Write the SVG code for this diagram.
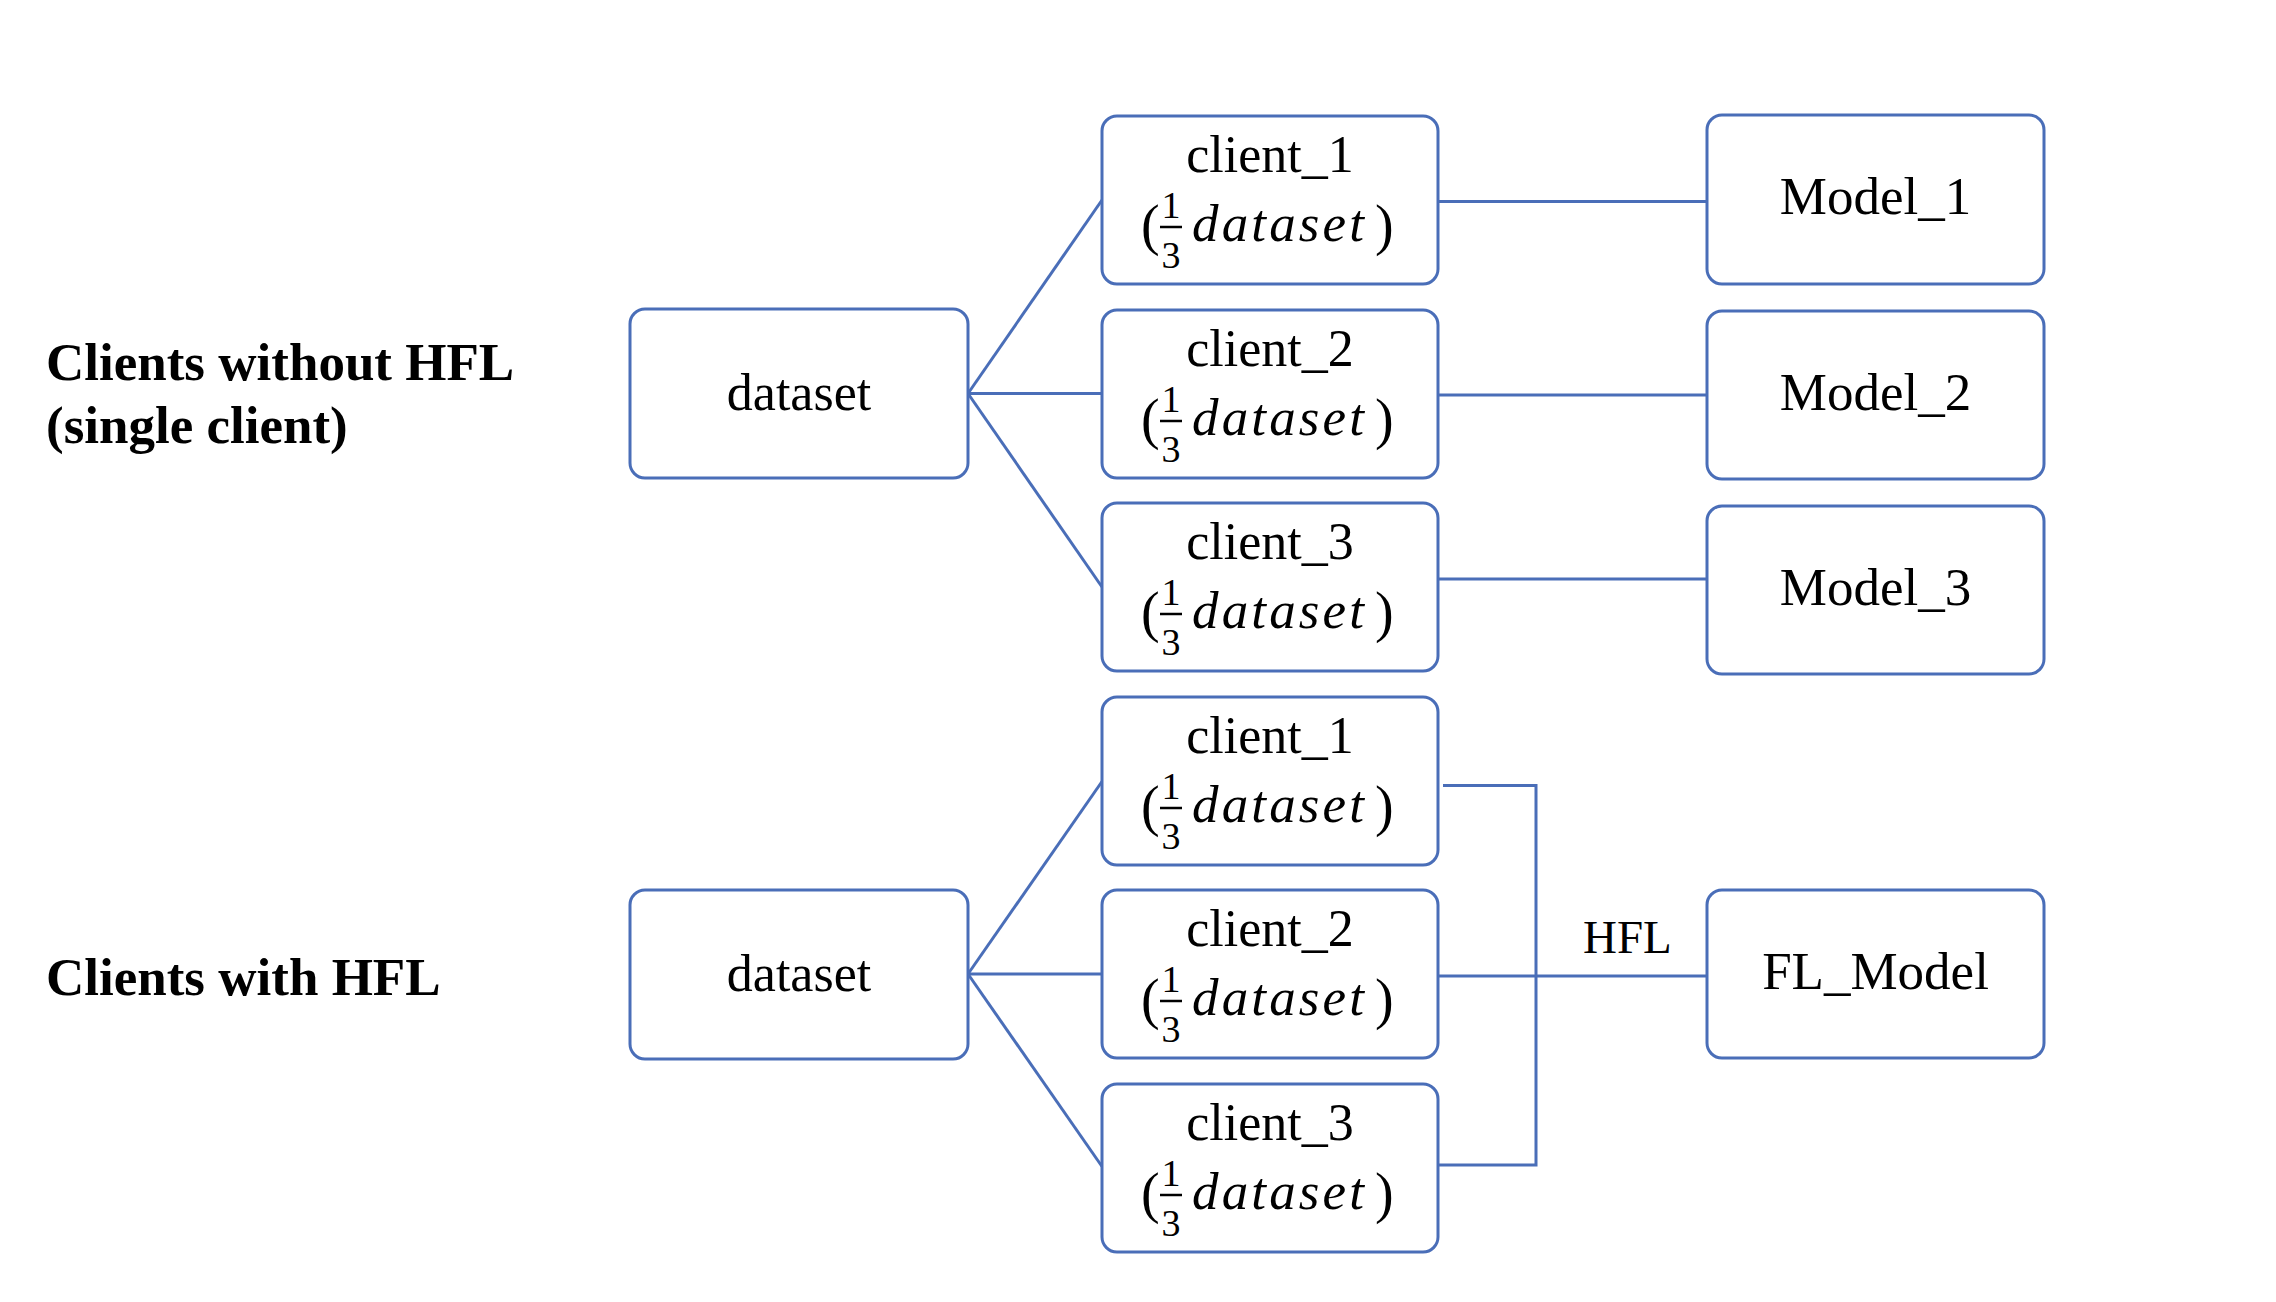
<svg xmlns="http://www.w3.org/2000/svg" width="2276" height="1302" viewBox="0 0 2276 1302">
<defs>
<style>
.box{fill:#ffffff;stroke:#4A6EB8;stroke-width:3}
.ln{stroke:#4A6EB8;stroke-width:3;fill:none}
.bar{stroke:#000000;stroke-width:2.5}
.t{font-family:"Liberation Serif","Times New Roman",serif;fill:#000000}
.lbl{font-size:53px;font-weight:bold}
.nm{font-size:52px;text-anchor:middle}
.mdl{font-size:53px;text-anchor:middle}
.par{font-size:56px}
.dig{font-size:38px;text-anchor:middle}
.it{font-size:53px;font-style:italic}
.hfl{font-size:47px}
</style>
</defs>
<rect width="2276" height="1302" fill="#ffffff"/>

<g id="labels">
<text class="t lbl" x="46" y="380">Clients without HFL</text>
<text class="t lbl" x="46" y="443">(single client)</text>
<text class="t lbl" x="46" y="995">Clients with HFL</text>
</g>

<g id="connectors">
<line class="ln" x1="968" y1="393.5" x2="1102" y2="200"/>
<line class="ln" x1="968" y1="393.5" x2="1102" y2="393.5"/>
<line class="ln" x1="968" y1="393.5" x2="1102" y2="587"/>
<line class="ln" x1="1438" y1="201.5" x2="1707" y2="201.5"/>
<line class="ln" x1="1438" y1="395" x2="1707" y2="395"/>
<line class="ln" x1="1438" y1="579" x2="1707" y2="579"/>
<line class="ln" x1="968" y1="974" x2="1102" y2="781.5"/>
<line class="ln" x1="968" y1="974" x2="1102" y2="974"/>
<line class="ln" x1="968" y1="974" x2="1102" y2="1166.5"/>
<polyline class="ln" points="1443,785.5 1536,785.5 1536,1165 1438,1165"/>
<line class="ln" x1="1438" y1="976" x2="1707" y2="976"/>
<text class="t hfl" x="1583" y="953">HFL</text>
</g>

<g id="dataset_top">
<rect class="box" x="630" y="309" width="338" height="169" rx="15"/>
<text class="t nm" x="799" y="410">dataset</text>
</g>
<g id="dataset_bottom">
<rect class="box" x="630" y="890" width="338" height="169" rx="15"/>
<text class="t nm" x="799" y="991">dataset</text>
</g>

<g id="client_1_top" transform="translate(1102,116)">
<rect class="box" x="0" y="0" width="336" height="168" rx="15"/>
<text class="t nm" x="168" y="56">client_1</text>
<text class="t par" x="39" y="128">(</text>
<text class="t dig" x="69" y="102">1</text>
<line class="bar" x1="58" y1="111" x2="80" y2="111"/>
<text class="t dig" x="69" y="152">3</text>
<text class="t it" x="90" y="125" textLength="172" lengthAdjust="spacing">dataset</text>
<text class="t par" x="273" y="128">)</text>
</g>
<g id="client_2_top" transform="translate(1102,310)">
<rect class="box" x="0" y="0" width="336" height="168" rx="15"/>
<text class="t nm" x="168" y="56">client_2</text>
<text class="t par" x="39" y="128">(</text>
<text class="t dig" x="69" y="102">1</text>
<line class="bar" x1="58" y1="111" x2="80" y2="111"/>
<text class="t dig" x="69" y="152">3</text>
<text class="t it" x="90" y="125" textLength="172" lengthAdjust="spacing">dataset</text>
<text class="t par" x="273" y="128">)</text>
</g>
<g id="client_3_top" transform="translate(1102,503)">
<rect class="box" x="0" y="0" width="336" height="168" rx="15"/>
<text class="t nm" x="168" y="56">client_3</text>
<text class="t par" x="39" y="128">(</text>
<text class="t dig" x="69" y="102">1</text>
<line class="bar" x1="58" y1="111" x2="80" y2="111"/>
<text class="t dig" x="69" y="152">3</text>
<text class="t it" x="90" y="125" textLength="172" lengthAdjust="spacing">dataset</text>
<text class="t par" x="273" y="128">)</text>
</g>
<g id="client_1_bottom" transform="translate(1102,697)">
<rect class="box" x="0" y="0" width="336" height="168" rx="15"/>
<text class="t nm" x="168" y="56">client_1</text>
<text class="t par" x="39" y="128">(</text>
<text class="t dig" x="69" y="102">1</text>
<line class="bar" x1="58" y1="111" x2="80" y2="111"/>
<text class="t dig" x="69" y="152">3</text>
<text class="t it" x="90" y="125" textLength="172" lengthAdjust="spacing">dataset</text>
<text class="t par" x="273" y="128">)</text>
</g>
<g id="client_2_bottom" transform="translate(1102,890)">
<rect class="box" x="0" y="0" width="336" height="168" rx="15"/>
<text class="t nm" x="168" y="56">client_2</text>
<text class="t par" x="39" y="128">(</text>
<text class="t dig" x="69" y="102">1</text>
<line class="bar" x1="58" y1="111" x2="80" y2="111"/>
<text class="t dig" x="69" y="152">3</text>
<text class="t it" x="90" y="125" textLength="172" lengthAdjust="spacing">dataset</text>
<text class="t par" x="273" y="128">)</text>
</g>
<g id="client_3_bottom" transform="translate(1102,1084)">
<rect class="box" x="0" y="0" width="336" height="168" rx="15"/>
<text class="t nm" x="168" y="56">client_3</text>
<text class="t par" x="39" y="128">(</text>
<text class="t dig" x="69" y="102">1</text>
<line class="bar" x1="58" y1="111" x2="80" y2="111"/>
<text class="t dig" x="69" y="152">3</text>
<text class="t it" x="90" y="125" textLength="172" lengthAdjust="spacing">dataset</text>
<text class="t par" x="273" y="128">)</text>
</g>

<g id="model_1">
<rect class="box" x="1707" y="115" width="337" height="169" rx="15"/>
<text class="t mdl" x="1875.5" y="214">Model_1</text>
</g>
<g id="model_2">
<rect class="box" x="1707" y="311" width="337" height="168" rx="15"/>
<text class="t mdl" x="1875.5" y="410">Model_2</text>
</g>
<g id="model_3">
<rect class="box" x="1707" y="506" width="337" height="168" rx="15"/>
<text class="t mdl" x="1875.5" y="605">Model_3</text>
</g>
<g id="fl_model">
<rect class="box" x="1707" y="890" width="337" height="168" rx="15"/>
<text class="t mdl" x="1875.5" y="989">FL_Model</text>
</g>
</svg>
